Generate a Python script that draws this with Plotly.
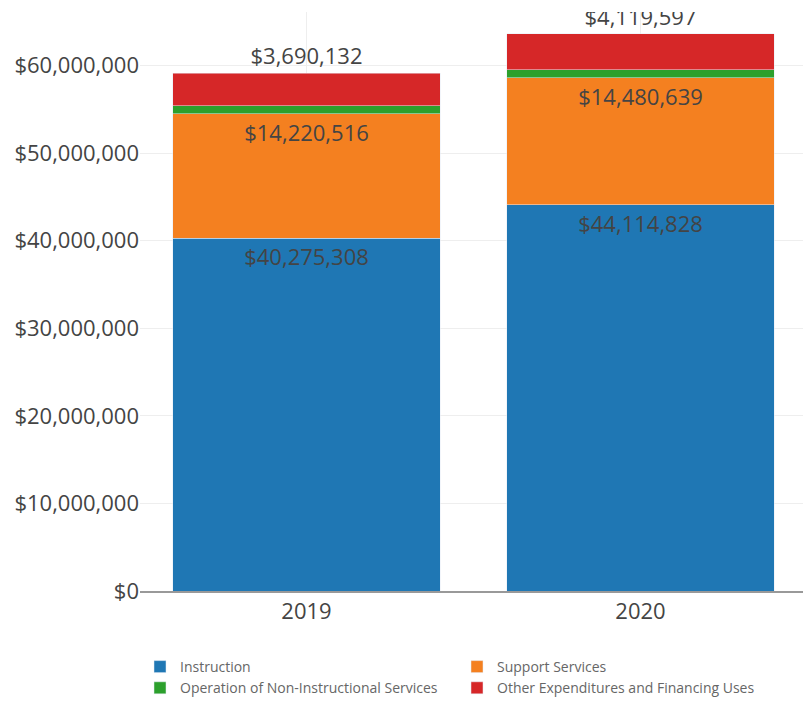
import plotly.graph_objects as go

# Fiscal years
years = ["2019", "2020"]

# Expenditure by function (USD)
instruction = [40275308, 44114828]
support_services = [14220516, 14480639]
non_instructional = [930000, 890000]
other_uses = [3690132, 4119597]

tick_values = [0, 10000000, 20000000, 30000000, 40000000, 50000000, 60000000]

FONT = "Open Sans"
TEXT_COLOR = "#444444"


def money(values):
    return ["${:,.0f}".format(v) for v in values]


fig = go.Figure()

fig.add_trace(go.Bar(
    name="Instruction", x=years, y=instruction,
    marker_color="#1f77b4",
    text=money(instruction), textposition="inside", insidetextanchor="end",
    textfont=dict(family=FONT, size=22, color=TEXT_COLOR),
))
fig.add_trace(go.Bar(
    name="Support Services", x=years, y=support_services,
    marker_color="#f48020",
    text=money(support_services), textposition="inside", insidetextanchor="end",
    textfont=dict(family=FONT, size=22, color=TEXT_COLOR),
))
fig.add_trace(go.Bar(
    name="Operation of Non-Instructional Services", x=years, y=non_instructional,
    marker_color="#2ca02c",
    textposition="none",
))
fig.add_trace(go.Bar(
    name="Other Expenditures and Financing Uses", x=years, y=other_uses,
    marker_color="#d62728",
    text=money(other_uses), textposition="outside",
    textfont=dict(family=FONT, size=22, color=TEXT_COLOR),
    cliponaxis=True,
))

fig.update_layout(
    barmode="stack",
    bargap=0.2,
    width=803,
    height=704,
    margin=dict(l=140, r=0, t=12, b=111),
    paper_bgcolor="white",
    plot_bgcolor="white",
    font=dict(family=FONT, color=TEXT_COLOR),
    showlegend=True,
    legend=dict(
        orientation="h",
        x=0.0, xanchor="left",
        y=-0.104, yanchor="top",
        entrywidth=272, entrywidthmode="pixels",
        font=dict(family=FONT, size=14, color="#666666"),
        traceorder="normal",
    ),
    xaxis=dict(
        type="category",
        range=[-0.4985, 1.4865],
        showgrid=True, gridcolor="#eeeeee",
        showline=True, linecolor="#999999", linewidth=1.5,
        ticks="", tickfont=dict(family=FONT, size=22, color=TEXT_COLOR),
    ),
    yaxis=dict(
        range=[0, 66.1e6],
        tickvals=tick_values,
        tickformat="$,.0f",
        showgrid=True, gridcolor="#eeeeee",
        zeroline=False, showline=False,
        ticks="", tickfont=dict(family=FONT, size=22, color=TEXT_COLOR),
    ),
)

fig.write_html("out.html")
